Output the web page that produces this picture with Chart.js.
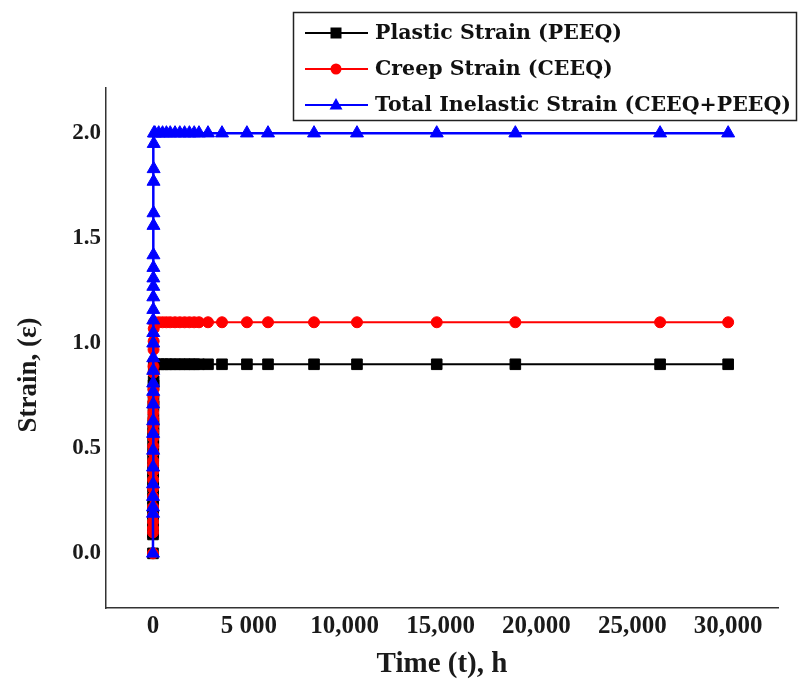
<!DOCTYPE html>
<html>
<head>
<meta charset="utf-8">
<script src="https://cdn.jsdelivr.net/npm/chart.js@4"></script>
<style>
html, body { margin: 0; padding: 0; background: #fff; }
#wrap { width: 798px; height: 682px; }
</style>
</head>
<body>
<div id="wrap"><canvas id="strainChart" width="798" height="682"></canvas></div>
<script>
// time in hours (first points are the loading ramp, all close to t = 0)
const timeHours = [0, 1, 2, 3, 4, 5, 6, 7, 8, 9, 10, 11, 12, 13, 14, 15, 16, 17, 18, 19,
    20, 22, 24, 26, 28, 30, 35, 40, 50,
    100, 300, 500, 700, 900, 1150, 1400, 1650, 1900, 2150, 2400, 2870, 3600, 4900,
    6000, 8400, 10640, 14800, 18900, 26450, 30000];

const plasticStrain = [0, 0.09, 0.10, 0.12, 0.15, 0.19, 0.22, 0.26, 0.28, 0.32, 0.35, 0.37, 0.39, 0.42,
    0.45, 0.47, 0.50, 0.52, 0.55, 0.57, 0.59, 0.61, 0.64, 0.70, 0.73, 0.80, 0.82, 0.88, 0.90,
    0.90, 0.90, 0.90, 0.90, 0.90, 0.90, 0.90, 0.90, 0.90, 0.90, 0.90, 0.90, 0.90, 0.90,
    0.90, 0.90, 0.90, 0.90, 0.90, 0.90, 0.90];

const creepStrain = [0, 0.10, 0.12, 0.15, 0.18, 0.22, 0.27, 0.31, 0.35, 0.39, 0.42, 0.44, 0.48, 0.51,
    0.55, 0.58, 0.61, 0.64, 0.67, 0.70, 0.72, 0.75, 0.78, 0.86, 0.89, 0.97, 1.01, 1.07, 1.10,
    1.10, 1.10, 1.10, 1.10, 1.10, 1.10, 1.10, 1.10, 1.10, 1.10, 1.10, 1.10, 1.10, 1.10,
    1.10, 1.10, 1.10, 1.10, 1.10, 1.10, 1.10];

const totalStrain = [0, 0.19, 0.22, 0.27, 0.33, 0.41, 0.49, 0.57, 0.63, 0.71, 0.77, 0.81, 0.87, 0.93,
    1.00, 1.05, 1.11, 1.16, 1.22, 1.27, 1.31, 1.36, 1.42, 1.56, 1.62, 1.77, 1.83, 1.95, 2.00,
    2.00, 2.00, 2.00, 2.00, 2.00, 2.00, 2.00, 2.00, 2.00, 2.00, 2.00, 2.00, 2.00, 2.00,
    2.00, 2.00, 2.00, 2.00, 2.00, 2.00, 2.00];

const seriesNames = ['Plastic Strain (PEEQ)', 'Creep Strain (CEEQ)', 'Total Inelastic Strain (CEEQ+PEEQ)'];

const xTickValues = [0, 5000, 10000, 15000, 20000, 25000, 30000];
const xTickLabels = ['0', '5 000', '10,000', '15,000', '20,000', '25,000', '30,000'];
const yTickValues = [0, 0.5, 1.0, 1.5, 2.0];
const yTickLabels = ['0.0', '0.5', '1.0', '1.5', '2.0'];

function toPoints(ys) {
    return timeHours.map((t, i) => ({ x: t, y: ys[i] }));
}

// hand-drawn legend: framed box, line + marker for each series
const boxLegend = {
    id: 'boxLegend',
    afterDraw(chart) {
        const ctx = chart.ctx;
        ctx.save();
        ctx.fillStyle = '#fff';
        ctx.fillRect(293, 12, 504, 109);
        ctx.strokeStyle = '#222';
        ctx.lineWidth = 1.5;
        ctx.strokeRect(293.5, 12.5, 503, 108);
        const rowsY = [33, 69, 105];
        chart.data.datasets.slice().sort((a, b) => a.legendIndex - b.legendIndex).forEach((ds, i) => {
            const y = rowsY[i];
            ctx.strokeStyle = ds.borderColor;
            ctx.lineWidth = 2;
            ctx.beginPath();
            ctx.moveTo(305, y);
            ctx.lineTo(368, y);
            ctx.stroke();
            ctx.fillStyle = ds.backgroundColor;
            const cx = 336;
            ctx.beginPath();
            if (ds.pointStyle === 'rect') {
                ctx.rect(cx - 5.5, y - 5.5, 11, 11);
            } else if (ds.pointStyle === 'circle') {
                ctx.arc(cx, y, 5.5, 0, Math.PI * 2);
            } else {
                ctx.moveTo(cx, y - 7);
                ctx.lineTo(cx + 6.5, y + 4.5);
                ctx.lineTo(cx - 6.5, y + 4.5);
                ctx.closePath();
            }
            ctx.fill();
            ctx.fillStyle = '#111';
            ctx.font = 'bold 20.5px "DejaVu Serif"';
            ctx.textBaseline = 'middle';
            ctx.textAlign = 'left';
            ctx.fillText(ds.label, 375, y + 1);
        });
        ctx.restore();
    }
};

const ctx = document.getElementById('strainChart').getContext('2d');
new Chart(ctx, {
    type: 'line',
    data: {
        datasets: [
            {
                label: seriesNames[2],
                legendIndex: 2,
                data: toPoints(totalStrain),
                borderColor: '#0000ff',
                backgroundColor: '#0000ff',
                pointStyle: 'triangle',
                pointRadius: 7.5,
                borderWidth: 2.5,
                pointBorderWidth: 1
            },
            {
                label: seriesNames[1],
                legendIndex: 1,
                data: toPoints(creepStrain),
                borderColor: '#ff0000',
                backgroundColor: '#ff0000',
                pointStyle: 'circle',
                pointRadius: 5.5,
                borderWidth: 2,
                pointBorderWidth: 1
            },
            {
                label: seriesNames[0],
                legendIndex: 0,
                data: toPoints(plasticStrain),
                borderColor: '#000000',
                backgroundColor: '#000000',
                pointStyle: 'rect',
                pointRadius: 7.5,
                borderWidth: 2,
                pointBorderWidth: 1
            }
        ]
    },
    options: {
        responsive: false,
        animation: false,
        devicePixelRatio: 1,
        layout: { padding: { top: 88, right: 20, left: 0, bottom: 0 } },
        plugins: {
            legend: { display: false },
            tooltip: { enabled: false }
        },
        scales: {
            x: {
                type: 'linear',
                min: -2450,
                max: 32600,
                grid: { display: false, drawTicks: false },
                border: { display: true, color: '#333', width: 1.5 },
                afterBuildTicks: (scale) => { scale.ticks = xTickValues.map(v => ({ value: v })); },
                afterFit: (scale) => { scale.height = 74; },
                ticks: {
                    padding: 4,
                    color: '#1a1a1a',
                    font: { family: 'Liberation Serif', size: 25, weight: 'bold' },
                    callback: (v) => xTickLabels[xTickValues.indexOf(v)]
                },
                title: {
                    display: true,
                    text: 'Time (t), h',
                    color: '#1a1a1a',
                    font: { family: 'Liberation Serif', size: 29, weight: 'bold' },
                    padding: { top: 4, bottom: 0 }
                }
            },
            y: {
                type: 'linear',
                min: -0.26,
                max: 2.215,
                grid: { display: false, drawTicks: false },
                border: { display: true, color: '#333', width: 1.5 },
                afterBuildTicks: (scale) => { scale.ticks = yTickValues.map(v => ({ value: v })); },
                afterFit: (scale) => { scale.width = 106; },
                ticks: {
                    padding: 5,
                    color: '#1a1a1a',
                    font: { family: 'Liberation Serif', size: 23, weight: 'bold' },
                    callback: (v) => yTickLabels[yTickValues.indexOf(v)]
                },
                title: {
                    display: true,
                    text: 'Strain, (ε)        ',
                    color: '#1a1a1a',
                    font: { family: 'Liberation Serif', size: 27, weight: 'bold' },
                    padding: { top: 13, bottom: 0 }
                }
            }
        }
    },
    plugins: [boxLegend]
});
</script>
</body>
</html>
